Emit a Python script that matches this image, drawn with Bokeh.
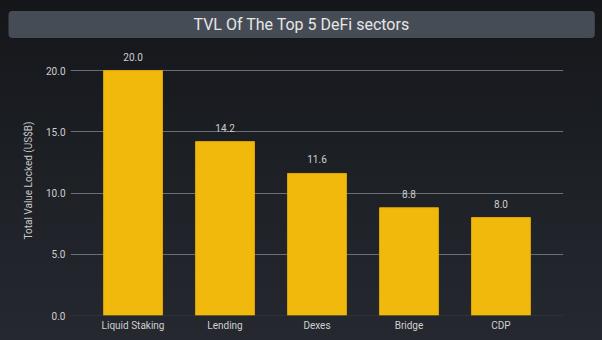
from bokeh.plotting import figure
from bokeh.models import ColumnDataSource, FactorRange, Range1d, FixedTicker, NumeralTickFormatter, LabelSet, Span, Title
from bokeh.core.properties import value
from bokeh.embed import file_html
from bokeh.resources import INLINE

sectors = ["Liquid Staking", "Lending", "Dexes", "Bridge", "CDP"]
tvl = [20.0, 14.2, 11.6, 8.8, 8.0]
y_ticks = [0, 5, 10, 15, 20]
title_text = "TVL Of The Top 5 DeFi sectors"
y_label = "Total Value Locked (US$B)"

src = ColumnDataSource(dict(x=sectors, y=tvl, lbl=[f"{v:.1f}" for v in tvl]))

p = figure(width=602, height=340, output_backend="svg", toolbar_location=None,
           x_range=FactorRange(*sectors, range_padding=0.18, range_padding_units="absolute"),
           y_range=Range1d(0, 22.05),
           min_border_left=70, min_border_right=39, min_border_bottom=25, min_border_top=45)
p.background_fill_color = None
p.border_fill_color = None
p.outline_line_color = None
p.styles = {"background": "linear-gradient(180deg, #14161a 0%, #1d2025 50%, #25282f 100%)"}

t = Title(text=title_text, align="left", text_color="#e6e6e6", text_font="Roboto",
          text_font_size="16px", text_font_style="normal",
          background_fill_color="#464c56", border_radius=4,
          padding=(185, 4), offset=-62, standoff=15)
p.add_layout(t, "above")

p.vbar(x="x", top="y", width=0.64, source=src, fill_color="#f0b90b", line_color="#e0a800", line_width=1)

p.add_layout(LabelSet(x="x", y="y", text="lbl", source=src, y_offset=10, text_align="center",
                      text_baseline="bottom", text_color="#cfcfcf", text_font=value("Roboto"),
                      text_font_size=value("10px")))

p.add_layout(Span(location=0, dimension="width", line_color="#3b3e45", line_width=1))

p.yaxis.ticker = FixedTicker(ticks=y_ticks)
p.yaxis.formatter = NumeralTickFormatter(format="0.0")
p.yaxis.axis_label = y_label
p.yaxis.axis_label_text_font = "Roboto"
p.yaxis.axis_label_text_font_size = "10px"
p.yaxis.axis_label_text_font_style = "normal"
p.yaxis.axis_label_text_color = "#c8c8c8"
p.yaxis.axis_label_standoff = 9
for ax in (p.xaxis, p.yaxis):
    ax.axis_line_color = None
    ax.major_tick_line_color = None
    ax.minor_tick_line_color = None
    ax.major_tick_out = 0
    ax.major_tick_in = 0
    ax.major_label_text_color = "#d0d0d0"
    ax.major_label_text_font = "Roboto"
    ax.major_label_text_font_size = "10px"
p.yaxis.major_label_standoff = 5
p.xaxis.major_label_standoff = 4

p.xgrid.grid_line_color = None
p.ygrid.ticker = FixedTicker(ticks=[5, 10, 15, 20])
p.ygrid.grid_line_color = "#6b6e74"
p.ygrid.grid_line_width = 1

open("out.html", "w").write(file_html(p, INLINE))
